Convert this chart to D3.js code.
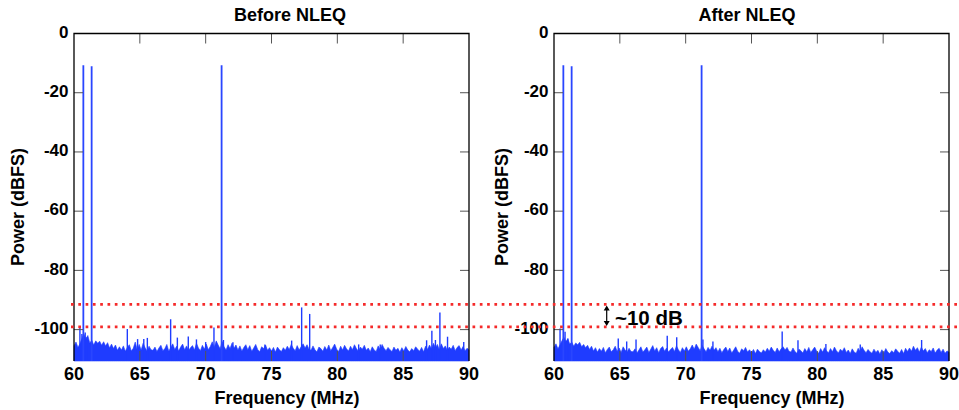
<!DOCTYPE html>
<html>
<head>
<meta charset="utf-8">
<script src="https://cdn.jsdelivr.net/npm/d3@7"></script>
<style>
  body { margin: 0; background: #fff; }
  text { font-family: "Liberation Sans", Arial, sans-serif; font-weight: bold; fill: #000; }
</style>
</head>
<body>
<script>
var width = 959, height = 410;

// tones (MHz, dBFS)
var toneFreq = [60.71, 61.34, 71.21];
var toneBefore = [-10.7, -11.1, -10.7];
var toneAfter = [-10.7, -11.1, -10.7];

// noise floor, one value every 0.15 MHz from 60 to 90 MHz
var floorStep = 0.15;
var floorBefore = [
  -105.5,-104.2,-106.0,-104.8,-103.0,-101.5,-103.2,-102.0,-104.5,-103.6,-105.2,-103.8,-104.6,-103.9,-105.3,-104.1,-105.5,-104.4,-106.2,-104.9,
  -106.4,-105.2,-107.0,-105.8,-106.9,-105.5,-107.3,-106.0,-105.1,-107.2,-106.3,-104.2,-106.8,-105.0,-106.9,-104.6,-106.1,-107.2,-105.6,-106.8,
  -107.0,-105.9,-107.4,-106.2,-105.3,-107.1,-106.4,-105.0,-107.3,-106.0,-104.8,-106.7,-105.6,-107.2,-105.9,-104.9,-106.8,-105.5,-107.0,-106.1,
  -105.4,-106.9,-104.6,-106.2,-107.1,-105.3,-106.6,-104.9,-106.8,-105.7,-104.1,-106.0,-103.8,-105.2,-106.5,-104.0,-105.8,-106.9,-105.1,-106.4,
  -104.6,-106.3,-105.2,-106.9,-105.5,-107.2,-106.0,-105.1,-106.8,-105.4,-107.3,-106.2,-105.0,-106.7,-107.5,-105.8,-106.4,-105.2,-107.0,-106.1,
  -107.2,-106.0,-107.6,-105.9,-106.8,-107.4,-106.1,-107.0,-105.6,-106.7,-105.0,-106.3,-107.1,-105.4,-106.9,-105.8,-104.8,-106.2,-105.1,-106.6,
  -107.0,-105.5,-106.8,-107.5,-105.9,-106.4,-107.3,-105.7,-106.9,-105.2,-107.1,-106.0,-104.9,-106.6,-107.4,-105.6,-106.9,-105.3,-106.5,-107.2,
  -105.6,-106.8,-105.1,-106.4,-107.3,-105.9,-106.6,-105.3,-107.0,-106.2,-107.5,-105.8,-106.9,-107.4,-105.5,-106.7,-105.0,-106.3,-107.1,-106.0,
  -106.8,-107.4,-105.9,-107.0,-106.3,-107.6,-106.1,-107.2,-105.7,-106.9,-107.5,-106.4,-107.1,-105.8,-106.6,-107.3,-106.0,-107.5,-105.6,-106.7,
  -105.2,-106.5,-104.6,-106.1,-105.0,-106.8,-104.8,-106.4,-105.5,-107.0,-105.9,-106.6,-105.3,-107.1,-106.0,-105.4,-106.9,-105.7,-107.2,-106.3,
  -106.8
];
var floorAfter = [
  -106.0,-104.8,-106.5,-105.2,-103.8,-102.6,-104.0,-103.1,-104.9,-104.2,-105.6,-104.5,-105.1,-104.3,-105.8,-105.0,-106.1,-105.3,-106.7,-105.6,
  -107.2,-106.1,-107.6,-106.4,-107.3,-106.0,-107.8,-106.7,-105.9,-107.5,-106.8,-105.6,-107.4,-106.2,-107.7,-105.8,-106.9,-107.6,-106.3,-107.4,
  -107.5,-106.5,-107.9,-106.9,-105.8,-107.6,-106.8,-105.9,-107.7,-106.6,-105.4,-107.2,-106.1,-107.8,-106.4,-105.7,-107.3,-106.2,-107.6,-106.7,
  -106.0,-107.4,-105.5,-106.8,-107.7,-106.1,-107.2,-105.8,-107.3,-106.5,-105.2,-106.6,-104.9,-106.0,-107.1,-105.3,-106.5,-107.5,-106.0,-107.0,
  -105.6,-107.0,-106.1,-107.5,-106.3,-107.8,-106.7,-105.9,-107.4,-106.2,-107.9,-106.9,-105.8,-107.3,-108.0,-106.5,-107.1,-106.0,-107.6,-106.8,
  -107.8,-106.7,-108.1,-106.6,-107.4,-107.9,-106.8,-107.6,-106.3,-107.3,-105.9,-107.0,-107.7,-106.2,-107.5,-106.5,-105.8,-106.9,-106.0,-107.3,
  -107.6,-106.2,-107.4,-108.0,-106.6,-107.1,-107.9,-106.4,-107.5,-106.0,-107.7,-106.8,-105.9,-107.3,-108.0,-106.4,-107.6,-106.1,-107.2,-107.8,
  -106.4,-107.5,-105.9,-107.1,-107.9,-106.6,-107.3,-106.1,-107.7,-106.9,-108.1,-106.5,-107.6,-108.0,-106.3,-107.4,-105.8,-107.0,-107.8,-106.7,
  -107.5,-108.0,-106.6,-107.7,-107.0,-108.2,-106.8,-107.9,-106.4,-107.6,-108.1,-107.1,-107.8,-106.5,-107.3,-108.0,-106.7,-108.1,-106.3,-107.4,
  -106.2,-107.3,-105.6,-107.0,-106.1,-107.6,-105.9,-107.2,-106.4,-107.8,-106.8,-107.4,-106.2,-107.9,-106.9,-106.3,-107.7,-106.6,-108.0,-107.2,
  -107.6
];

// spurs sticking out of the floor
var spurFreqBefore = [60.45, 60.6, 60.85, 61.0, 64.05, 64.83, 65.3, 65.57, 67.34, 67.85, 68.68, 69.3, 70.0, 70.63, 71.35, 72.07, 74.5, 76.53, 77.29, 77.9, 81.62, 83.26, 86.78, 87.18, 87.45, 87.79, 88.37, 89.6];
var spurBefore = [-99.0, -101.5, -101.0, -102.5, -99.8, -103.2, -103.2, -102.8, -96.5, -102.7, -102.3, -103.3, -104.2, -99.3, -103.5, -104.3, -105.0, -103.7, -92.5, -94.7, -105.0, -105.0, -103.6, -100.4, -103.5, -94.2, -102.4, -104.2];
var spurFreqAfter = [60.46, 60.84, 61.05, 64.88, 65.52, 66.23, 68.6, 69.32, 71.31, 72.07, 77.33, 78.53, 80.65, 83.26, 87.92];
var spurAfter = [-99.6, -100.7, -103.0, -103.0, -104.0, -103.3, -102.1, -102.6, -103.3, -104.0, -100.6, -103.6, -104.9, -105.0, -103.5];

var xTicks = [60, 65, 70, 75, 80, 85, 90];
var yTicks = [0, -20, -40, -60, -80, -100];
var redLevels = [-91.5, -99.1];

var blue = "#1f3cff";

var svg = d3.select("body")
    .append("svg")
    .attr("width", width)
    .attr("height", height);

var y = d3.scaleLinear().domain([-110.6, 0]).range([361, 33.5]);

var panels = [
  {x0: 74, x1: 469, title: "Before NLEQ", titleX: 290, labelX: 287, ylabX: 24, floor: floorBefore, spurF: spurFreqBefore, spurV: spurBefore, tone: toneBefore},
  {x0: 554, x1: 949, title: "After NLEQ", titleX: 747, labelX: 772, ylabX: 508, floor: floorAfter, spurF: spurFreqAfter, spurV: spurAfter, tone: toneAfter}
];

panels.forEach(function(p) {
  var x = d3.scaleLinear().domain([60, 90]).range([p.x0, p.x1]);
  var g = svg.append("g");

  // noise floor
  var area = d3.area()
      .x(function(d, i) { return x(60 + i * floorStep); })
      .y0(y(-110.6))
      .y1(function(d) { return y(d); });
  g.append("path")
      .datum(p.floor)
      .attr("d", area)
      .attr("fill", blue)
      .attr("stroke", blue)
      .attr("stroke-width", 0.6);

  // spurs
  g.selectAll(".spur")
      .data(p.spurF)
    .enter().append("line")
      .attr("x1", function(d) { return x(d); })
      .attr("x2", function(d) { return x(d); })
      .attr("y1", y(-110.6))
      .attr("y2", function(d, i) { return y(p.spurV[i]); })
      .attr("stroke", blue)
      .attr("stroke-width", 1.4);

  // tones
  g.selectAll(".tone")
      .data(toneFreq)
    .enter().append("line")
      .attr("x1", function(d) { return x(d); })
      .attr("x2", function(d) { return x(d); })
      .attr("y1", y(-110.6))
      .attr("y2", function(d, i) { return y(p.tone[i]); })
      .attr("stroke", "#2a46ff")
      .attr("stroke-width", 1.8);

  // ticks (inward, on all four sides)
  var inner = xTicks.slice(1, -1);
  inner.forEach(function(t) {
    g.append("line").attr("x1", x(t)).attr("x2", x(t)).attr("y1", y(0)).attr("y2", y(0) + 10)
        .attr("stroke", "#555").attr("stroke-width", 1);
    g.append("line").attr("x1", x(t)).attr("x2", x(t)).attr("y1", y(-110.6)).attr("y2", y(-110.6) - 10)
        .attr("stroke", "#555").attr("stroke-width", 1);
  });
  yTicks.slice(1).forEach(function(t) {
    g.append("line").attr("x1", p.x0).attr("x2", p.x0 + 9).attr("y1", y(t)).attr("y2", y(t))
        .attr("stroke", "#555").attr("stroke-width", 1);
    g.append("line").attr("x1", p.x1).attr("x2", p.x1 - 9).attr("y1", y(t)).attr("y2", y(t))
        .attr("stroke", "#555").attr("stroke-width", 1);
  });

  // frame
  g.append("path")
      .attr("d", "M" + p.x0 + "," + y(-110.6) + "V" + y(0) + "H" + p.x1 + "V" + y(-110.6))
      .attr("fill", "none")
      .attr("stroke", "#000")
      .attr("stroke-width", 1.3);

  // tick labels
  g.selectAll(".xl")
      .data(xTicks)
    .enter().append("text")
      .attr("x", function(d) { return x(d); })
      .attr("y", 380)
      .attr("text-anchor", "middle")
      .style("font-size", "18px")
      .text(function(d) { return d; });
  g.selectAll(".yl")
      .data(yTicks)
    .enter().append("text")
      .attr("x", p.x0 - 5.5)
      .attr("y", function(d) { return y(d) + 4.2; })
      .attr("text-anchor", "end")
      .style("font-size", "17px")
      .text(function(d) { return d; });

  // titles
  g.append("text")
      .attr("x", p.titleX).attr("y", 21)
      .attr("text-anchor", "middle")
      .style("font-size", "18px")
      .text(p.title);
  g.append("text")
      .attr("x", p.labelX).attr("y", 404)
      .attr("text-anchor", "middle")
      .style("font-size", "18px")
      .text("Frequency (MHz)");
  g.append("text")
      .attr("transform", "translate(" + p.ylabX + ",207) rotate(-90)")
      .attr("text-anchor", "middle")
      .style("font-size", "18px")
      .text("Power (dBFS)");
});

// red dotted reference lines across both panels
svg.selectAll(".ref")
    .data(redLevels)
  .enter().append("line")
    .attr("x1", 71)
    .attr("x2", width)
    .attr("y1", function(d) { return y(d); })
    .attr("y2", function(d) { return y(d); })
    .attr("stroke", "#f52a2a")
    .attr("stroke-width", 2.7)
    .attr("stroke-dasharray", "2.7 4.6");

// ~10 dB annotation
var ax = 606.7, ay1 = y(redLevels[0]) + 1, ay2 = y(redLevels[1]) - 1;
svg.append("line")
    .attr("x1", ax).attr("x2", ax).attr("y1", ay1 + 3).attr("y2", ay2 - 3)
    .attr("stroke", "#000").attr("stroke-width", 1.2);
svg.append("path")
    .attr("d", "M" + ax + "," + ay1 + "l-3,5h6z M" + ax + "," + ay2 + "l-3,-5h6z")
    .attr("fill", "#000");
svg.append("text")
    .attr("x", 615)
    .attr("y", 325)
    .style("font-size", "20.5px")
    .text("~10 dB");
</script>
</body>
</html>
